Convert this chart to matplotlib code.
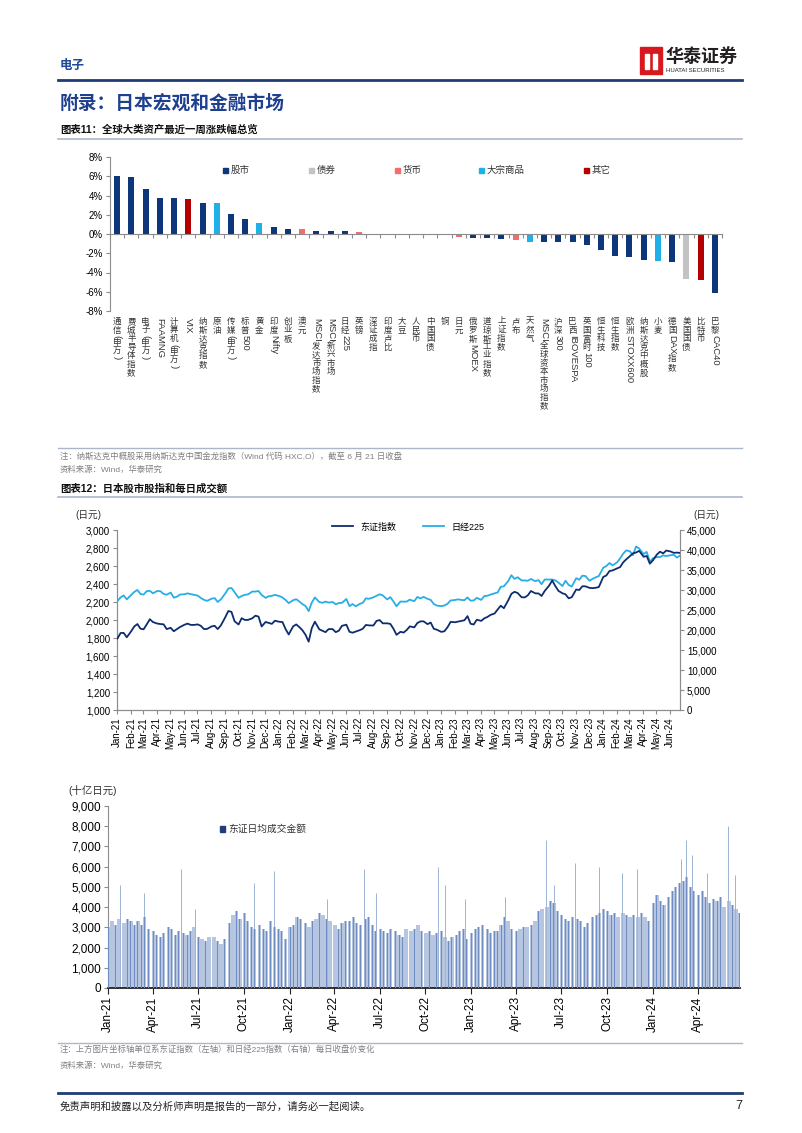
import re
import pandas as pd
import matplotlib
matplotlib.use("Agg")
import matplotlib.pyplot as plt
import matplotlib.dates as mdates
from matplotlib.patches import Rectangle
from matplotlib.lines import Line2D
from matplotlib.transforms import IdentityTransform
from matplotlib.ticker import FuncFormatter, MultipleLocator

plt.rcParams['font.family'] = ['Liberation Sans', 'Noto Sans CJK SC']

# ---------------- Data: chart 11 ----------------

assets = ["通信(申万)", "费城半导体指数", "电子(申万)", "FAAMNG", "计算机(申万)", "VIX",
          "纳斯达克指数", "原油", "传媒(申万)", "标普500", "黄金", "印度Nifty", "创业板",
          "澳元", "MSCI发达市场指数", "MSCI新兴市场", "日经225", "英镑", "深证成指",
          "印度卢比", "大豆", "人民币", "中国国债", "铜", "日元", "俄罗斯MOEX",
          "道琼斯工业指数", "上证指数", "卢布", "天然气", "MSCI全球资本市场指数", "沪深300",
          "巴西IBOVESPA", "英国富时100", "恒生科技", "恒生指数", "欧洲STOXX600",
          "纳斯达克中概股", "小麦", "德国DAX指数", "美国国债", "比特币", "巴黎CAC40"]

asset_chg = [6.0, 5.9, 4.7, 3.7, 3.7, 3.6, 3.25, 3.2, 2.05, 1.6, 1.1, 0.75, 0.55,
             0.5, 0.35, 0.33, 0.3, 0.25, 0.03, 0.02, -0.05, -0.1, -0.1, -0.15, -0.35,
             -0.45, -0.45, -0.55, -0.6, -0.8, -0.85, -0.85, -0.85, -1.15, -1.65, -2.3,
             -2.35, -2.65, -2.85, -2.95, -4.7, -4.75, -6.15]

asset_type = ["股市", "股市", "股市", "股市", "股市", "其它", "股市", "大宗商品", "股市",
              "股市", "大宗商品", "股市", "股市", "货币", "股市", "股市", "股市", "货币",
              "股市", "货币", "大宗商品", "货币", "债券", "大宗商品", "货币", "股市", "股市",
              "股市", "货币", "大宗商品", "股市", "股市", "股市", "股市", "股市", "股市",
              "股市", "股市", "大宗商品", "股市", "债券", "其它", "股市"]

type_order = ["股市", "债券", "货币", "大宗商品", "其它"]

# ---------------- Data: chart 12 (weekly readings, 4 per month) ----------------

months = pd.date_range("2021-01-01", "2024-06-01", freq="MS")

topix = [1794, 1855, 1857, 1808, 1875, 1929, 1955, 1903, 1897, 1951, 2009, 1977,
         1960, 1955, 1952, 1899, 1913, 1875, 1899, 1922, 1947, 1960, 1946, 1945,
         1951, 1935, 1899, 1901, 1928, 1936, 1899, 1939, 2030, 2100, 2090, 1986,
         1950, 2020, 2001, 2001, 2019, 2048, 2038, 1928, 1978, 1968, 1957, 1992,
         1980, 1977, 1899, 1839, 1929, 1951, 1921, 1886, 1835, 1759, 1909, 1981,
         1896, 1880, 1865, 1899, 1899, 1865, 1881, 1935, 1948, 1869, 1859, 1871,
         1887, 1903, 1945, 1940, 1939, 1990, 1999, 1963, 1963, 1957, 1904, 1835,
         1869, 1860, 1889, 1929, 1918, 1966, 1985, 1985, 1954, 1972, 1903, 1892,
         1868, 1875, 1920, 1979, 1975, 1982, 1988, 1997, 2043, 1958, 1950, 2003,
         1990, 2019, 2034, 2057, 2072, 2117, 2159, 2131, 2220, 2291, 2313, 2300,
         2253, 2251, 2274, 2322, 2296, 2295, 2267, 2322, 2382, 2439, 2377, 2324,
         2297, 2285, 2241, 2253, 2339, 2333, 2375, 2374, 2357, 2354, 2358, 2366,
         2478, 2495, 2544, 2551, 2572, 2588, 2641, 2675, 2709, 2741, 2750, 2768,
         2703, 2711, 2626, 2663, 2728, 2759, 2740, 2772, 2761, 2746, 2749, 2745]

nikkei = [27258, 28139, 28631, 27663, 28779, 29520, 30018, 28966, 28864, 29717, 29792, 29176,
          29768, 29683, 29020, 28813, 29357, 28084, 28317, 28860, 28941, 29161, 28964, 28791,
          28598, 28003, 27548, 27283, 27820, 27977, 27013, 27641, 29128, 30381, 30500, 29452,
          28049, 28499, 28804, 28892, 29612, 29610, 29745, 28751, 28030, 28437, 28545, 28782,
          28479, 28124, 27522, 26717, 27440, 27696, 27122, 26476, 25985, 24717, 26827, 28149,
          26985, 26800, 27105, 26848, 27003, 26427, 26739, 26781, 27761, 25963, 26491, 25935,
          26517, 26788, 27914, 27802, 28175, 28546, 28930, 28641, 27650, 28214, 27153, 25937,
          27116, 27090, 27105, 27587, 27199, 28263, 27899, 28283, 27777, 27527, 26507, 26094,
          25974, 26119, 26553, 27382, 27509, 27670, 27513, 27453, 28144, 27333, 27385, 28041,
          27518, 28493, 28564, 28856, 29157, 29388, 30808, 30916, 32265, 33706, 32781, 33189,
          32388, 32391, 32304, 32759, 32192, 32473, 31450, 32619, 32606, 32607, 32402, 31857,
          30994, 32315, 31259, 30858, 32949, 32568, 33585, 33487, 32307, 32791, 33169, 33464,
          35577, 35963, 36751, 36158, 36897, 37898, 39098, 39910, 39688, 38707, 40888, 40369,
          38992, 39523, 37068, 37934, 38236, 38229, 38646, 38488, 38703, 38815, 38102, 38596]

turnover = [3000, 3300, 3100, 3400, 3200, 3400, 3300, 3100, 3300, 3100, 3500, 2900,
            2800, 2600, 2500, 2700, 3000, 2900, 2600, 2800, 2700, 2600, 2800, 3000,
            2500, 2400, 2300, 2500, 2500, 2300, 2200, 2400, 3200, 3600, 3800, 3400,
            3700, 3300, 3000, 2900, 3100, 2900, 2800, 3300, 3000, 2900, 2800, 2400,
            3000, 3100, 3500, 3400, 3200, 3000, 3300, 3400, 3700, 3600, 3400, 3300,
            3100, 2900, 3200, 3300, 3300, 3500, 3200, 3100, 3400, 3500, 3100, 2800,
            2900, 2800, 2700, 2900, 2800, 2600, 2500, 2900, 2800, 2900, 3100, 2800,
            2700, 2800, 2600, 2700, 2800, 2500, 2300, 2500, 2600, 2800, 2900, 2400,
            2700, 2900, 3000, 3100, 2900, 2700, 2800, 2800, 3100, 3500, 3300, 2900,
            2800, 2900, 3000, 3000, 3100, 3300, 3800, 3900, 4000, 4300, 4200, 3800,
            3600, 3400, 3300, 3500, 3400, 3300, 3000, 3200, 3500, 3600, 3700, 3900,
            3800, 3600, 3700, 3500, 3700, 3600, 3500, 3600, 3500, 3700, 3500, 3300,
            4200, 4600, 4300, 4100, 4500, 4800, 5000, 5200, 5300, 5500, 5000, 4800,
            4600, 4800, 4500, 4200, 4400, 4300, 4500, 4000, 4300, 4100, 3900, 3700]

spike_dates = ["2021-01-25", "2021-03-15", "2021-05-27", "2021-06-25", "2021-10-22",
               "2021-11-30", "2022-03-18", "2022-05-31", "2022-06-24", "2022-10-27",
               "2022-11-10", "2022-12-20", "2023-03-10", "2023-05-31", "2023-06-16",
               "2023-07-28", "2023-09-15", "2023-10-31", "2023-11-30", "2024-02-26",
               "2024-03-08", "2024-03-19", "2024-04-19", "2024-05-31", "2024-06-14"]
spike_vals = [5100, 4700, 5900, 3900, 5200, 5800, 4400, 5900, 4700, 6000,
              5100, 4400, 4500, 7300, 5100, 6200, 6000, 5700, 5900, 6400,
              7300, 6600, 5700, 8000, 5600]

# ---------------- Figure helpers ----------------

W, H = 802, 1133
fig = plt.figure(figsize=(W / 100, H / 100), dpi=100)


def fy(y):
    return 1 - y / H


def add_ax(l, t, r, b):
    return fig.add_axes([l / W, 1 - b / H, (r - l) / W, (b - t) / H])


def hline(y, color, lw, x0=58, x1=742):
    fig.add_artist(Line2D([x0 / W, x1 / W], [fy(y), fy(y)], color=color, lw=lw))


navy = "#0d377a"
colors = {"股市": navy, "债券": "#c3c3c3", "货币": "#f26d6d",
          "大宗商品": "#1fb0ea", "其它": "#b30000"}
gray_txt = "#808080"

# ---------------- Header ----------------

fig.text(60 / W, fy(66), "电子", fontsize=9, color="#1f4a96", va="center", fontweight="bold")
fig.add_artist(Rectangle((640 / W, fy(74)), 22 / W, 27 / H, color="#d7191f"))
fig.add_artist(Rectangle((645 / W, fy(69)), 4 / W, 15 / H, color="white"))
fig.add_artist(Rectangle((653 / W, fy(69)), 4 / W, 15 / H, color="white"))
fig.text(665 / W, fy(57), "华泰证券", fontsize=13, fontweight="bold", color="#231f20", va="center")
fig.text(666 / W, fy(71), "HUATAI SECURITIES", fontsize=4.3, color="#231f20", va="center")
hline(80, "#1f3c77", 2)

fig.text(60 / W, fy(104), "附录：日本宏观和金融市场", fontsize=13.5, color="#1f3f8f",
         va="center", fontweight="bold")

fig.text(60 / W, fy(130), "图表11：全球大类资产最近一周涨跌幅总览", fontsize=7.5,
         fontweight="bold", va="center", color="#111111")
hline(139, "#a9b7c8", 1.2)

# ---------------- Chart 11: bars ----------------

ax1 = add_ax(110, 157, 722, 311)
xs = list(range(len(assets)))
ax1.bar(xs, asset_chg, width=0.42, color=[colors[t] for t in asset_type], zorder=2)
ax1.set_xlim(-0.5, len(assets) - 0.5)
ax1.set_ylim(-8, 8)
ax1.yaxis.set_major_locator(MultipleLocator(2))
ax1.yaxis.set_major_formatter(FuncFormatter(lambda v, p: f"{v:.0f}%"))
for s in ["top", "right"]:
    ax1.spines[s].set_visible(False)
ax1.spines["bottom"].set_position(("data", 0))
ax1.spines["bottom"].set_color("#8c8c8c")
ax1.spines["left"].set_color("#8c8c8c")
ax1.set_xticks([i + 0.5 for i in range(-1, len(assets))])
ax1.set_xticklabels([])
ax1.tick_params(axis="x", length=3, color="#8c8c8c")
ax1.tick_params(axis="y", length=3, color="#8c8c8c", labelsize=7, pad=2)

# legend placed by hand
leg_x = [223, 309, 395, 479, 584]
for name, lx in zip(type_order, leg_x):
    fig.add_artist(Rectangle((lx / W, fy(173)), 5 / W, 5 / H, color=colors[name]))
    fig.text((lx + 8) / W, fy(170.5), name, fontsize=6.8, va="center", color="#333333")

# stacked vertical category labels
fig.canvas.draw()
renderer = fig.canvas.get_renderer()
cjk_pitch = 8.6
for i, lab in enumerate(assets):
    xd = ax1.transData.transform((i, 0))[0]
    ytop = H - 318
    for run in re.findall(r"[\u2e80-\uffff]|[^\u2e80-\uffff]+", lab):
        if ord(run[0]) >= 0x2e80:
            fig.text(xd, ytop, run, transform=IdentityTransform(), fontsize=6.1,
                     ha="center", va="top", color="#333333")
            ytop -= cjk_pitch
        else:
            t = fig.text(xd, ytop, run, transform=IdentityTransform(), fontsize=6.8,
                         rotation=-90, ha="center", va="top", color="#333333")
            ytop -= t.get_window_extent(renderer).height + 0.5

hline(448, "#a9b7c8", 1)
fig.text(60 / W, fy(456), "注：纳斯达克中概股采用纳斯达克中国金龙指数（Wind 代码 HXC.O），截至 6 月 21 日收盘",
         fontsize=6, color=gray_txt, va="center")
fig.text(60 / W, fy(470), "资料来源：Wind，华泰研究", fontsize=6, color=gray_txt, va="center")

# ---------------- Chart 12: indices ----------------

fig.text(60 / W, fy(489), "图表12：日本股市股指和每日成交额", fontsize=7.5,
         fontweight="bold", va="center", color="#111111")
hline(497, "#a9b7c8", 1.2)

week_dates = [m + pd.Timedelta(days=d) for m in months for d in (1, 8, 15, 22)]

ax2 = add_ax(117, 530, 680, 710)
ax2r = ax2.twinx()
l1, = ax2.plot(week_dates, topix, color="#0e2d6e", lw=1.3, zorder=3)
l2, = ax2r.plot(week_dates, nikkei, color="#27aee6", lw=1.3)
ax2.set_zorder(ax2r.get_zorder() + 1)
ax2.patch.set_visible(False)
ax2.set_xlim(pd.Timestamp("2021-01-01"), pd.Timestamp("2024-06-23"))
ax2.set_ylim(1000, 3000)
ax2r.set_ylim(0, 45000)
ax2.yaxis.set_major_locator(MultipleLocator(200))
ax2r.yaxis.set_major_locator(MultipleLocator(5000))
fmt = FuncFormatter(lambda v, p: f"{v:,.0f}")
ax2.yaxis.set_major_formatter(fmt)
ax2r.yaxis.set_major_formatter(fmt)
ax2.xaxis.set_major_locator(mdates.MonthLocator())
ax2.xaxis.set_major_formatter(mdates.DateFormatter("%b-%y"))
for a in (ax2, ax2r):
    a.spines["top"].set_visible(False)
    for s in ["left", "right", "bottom"]:
        a.spines[s].set_color("#8c8c8c")
    a.tick_params(length=3, color="#8c8c8c", labelsize=7, pad=2)
ax2.tick_params(axis="x", labelrotation=90, labelsize=7)
fig.legend([l1, l2], ["东证指数", "日经225"], loc="center", ncol=2,
           bbox_to_anchor=(408 / W, fy(527)), frameon=False, fontsize=6.5,
           handlelength=2.3, columnspacing=3)
fig.text(75 / W, fy(515), "(日元)", fontsize=7, va="center", color="#333333")
fig.text(693 / W, fy(515), "(日元)", fontsize=7, va="center", color="#333333")

# ---------------- Chart 12: turnover ----------------

ax3 = add_ax(108, 806, 740, 988)
ax3.bar(week_dates, turnover, width=6.6, color="#b7c6e0", align="center", zorder=2)
ax3.bar(week_dates, turnover, width=1.6, color="#6f8dc0", align="center", zorder=3)
ax3.vlines(pd.to_datetime(spike_dates), 0, spike_vals, color="#9fb3d6", lw=0.7, zorder=2)
ax3.set_xlim(pd.Timestamp("2021-01-01"), pd.Timestamp("2024-06-24"))
ax3.set_ylim(0, 9000)
ax3.yaxis.set_major_locator(MultipleLocator(1000))
ax3.yaxis.set_major_formatter(fmt)
ax3.xaxis.set_major_locator(mdates.MonthLocator(bymonth=[1, 4, 7, 10]))
ax3.xaxis.set_major_formatter(mdates.DateFormatter("%b-%y"))
for s in ["top", "right"]:
    ax3.spines[s].set_visible(False)
ax3.spines["left"].set_color("#8c8c8c")
ax3.spines["bottom"].set_color("#222222")
ax3.spines["bottom"].set_linewidth(1.3)
ax3.tick_params(axis="y", length=3, color="#8c8c8c", labelsize=8.5, pad=2)
ax3.tick_params(axis="x", length=4, color="#222222", labelsize=8.5, labelrotation=90, pad=2)
fig.text(68 / W, fy(791), "(十亿日元)", fontsize=7.5, va="center", color="#333333")
fig.add_artist(Rectangle((220 / W, fy(832)), 5 / W, 6 / H, color="#1f3d7a"))
fig.text(228 / W, fy(829), "东证日均成交金额", fontsize=7, va="center", color="#333333")

hline(1043, "#a9b7c8", 1)
fig.text(60 / W, fy(1050), "注：上方图片坐标轴单位系东证指数（左轴）和日经225指数（右轴）每日收盘价变化",
         fontsize=6, color=gray_txt, va="center")
fig.text(60 / W, fy(1066), "资料来源：Wind，华泰研究", fontsize=6, color=gray_txt, va="center")

# ---------------- Footer ----------------

hline(1093, "#1f3c77", 2)
fig.text(60 / W, fy(1106), "免责声明和披露以及分析师声明是报告的一部分，请务必一起阅读。",
         fontsize=7.5, color="#222222", va="center")
fig.text(742 / W, fy(1106), "7", fontsize=9, color="#222222", va="center", ha="right")

fig.savefig("out.png", dpi=100)
